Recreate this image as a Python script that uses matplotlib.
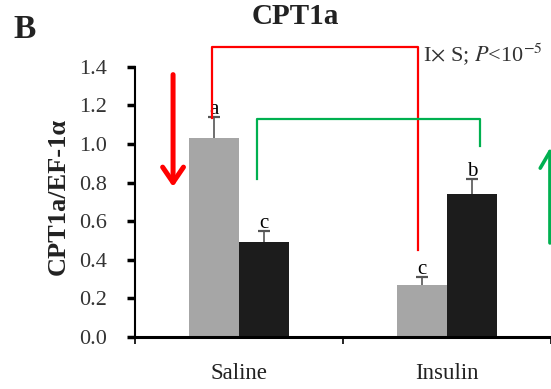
import numpy as np
import matplotlib
matplotlib.use('Agg')
import matplotlib.pyplot as plt

plt.rcParams['font.family'] = ['Liberation Serif', 'DejaVu Serif']
plt.rcParams['mathtext.fontset'] = 'stix'

groups = ['Saline', 'Insulin']
gray_vals = [1.03, 0.27]
gray_err = [0.11, 0.04]
black_vals = [0.49, 0.74]
black_err = [0.06, 0.08]
gray_letters = ['a', 'c']
black_letters = ['c', 'b']

fig = plt.figure(figsize=(5.51, 3.89), dpi=100)
ax = fig.add_axes([0.245, 0.134, 0.755, 0.694])

x = np.arange(len(groups))
w = 0.238
ax.bar(x - w/2, gray_vals, w, color='#a6a6a6', zorder=2)
ax.bar(x + w/2, black_vals, w, color='#1c1c1c', zorder=2)
# upper error bars only (stem + top cap)
for xs, vals, errs in [(x - w/2, gray_vals, gray_err), (x + w/2, black_vals, black_err)]:
    tops = np.array(vals) + np.array(errs)
    ax.vlines(xs, vals, tops, color='#555555', lw=1.2, zorder=3)
    ax.plot(xs, tops, ls='none', marker='_', ms=9, mew=1.6, color='#555555', zorder=3)

for i in range(len(groups)):
    ax.text(x[i] - w/2, gray_vals[i] + gray_err[i] - 0.01, gray_letters[i],
            ha='center', va='bottom', fontsize=15)
    ax.text(x[i] + w/2, black_vals[i] + black_err[i] - 0.01, black_letters[i],
            ha='center', va='bottom', fontsize=15)

# brackets
ax.plot([-0.13, -0.13, 0.86, 0.86], [1.136, 1.504, 1.504, 0.451],
        color='#ff0000', lw=1.6, clip_on=False, zorder=4)
ax.plot([0.087, 0.087, 1.159, 1.159], [0.819, 1.13, 1.13, 0.99],
        color='#00b050', lw=1.6, clip_on=False, zorder=4)
ax.text(0.885, 1.462, r'I$\times$ S; $P$<10$^{-5}$', fontsize=16,
        ha='left', va='center', color='#333333')

# arrows
ax.annotate('', xy=(-0.317, 0.778), xytext=(-0.317, 1.36),
            arrowprops=dict(arrowstyle='->,head_width=0.75,head_length=1.1',
                            color='#ff0000', lw=3.6, shrinkA=0, shrinkB=0))
ax.annotate('', xy=(1.495, 0.98), xytext=(1.495, 0.487),
            arrowprops=dict(arrowstyle='->,head_width=0.7,head_length=1.2',
                            color='#00b050', lw=2.6, shrinkA=0, shrinkB=0),
            annotation_clip=False)

ax.set_xlim(-0.5, 1.5)
ax.set_ylim(0, 1.4)
ax.set_yticks(np.arange(0, 1.41, 0.2))
ax.set_yticklabels(['%.1f' % v for v in np.arange(0, 1.41, 0.2)], fontsize=16,
                   color='#333333')
ax.set_xticks(x)
ax.set_xticklabels(groups, fontsize=16.5, color='#222222')
ax.set_xticks([-0.5, 0.5, 1.5], minor=True)
ax.tick_params(axis='x', which='major', length=0, pad=19)
ax.tick_params(axis='x', which='minor', length=5, width=1.2, direction='out')
ax.tick_params(axis='y', length=6, width=2.5, direction='out', pad=14)
for s in ['top', 'right']:
    ax.spines[s].set_visible(False)
ax.spines['left'].set_linewidth(1.5)
ax.spines['bottom'].set_linewidth(2.2)

fig.text(58/551, 1 - 196/389, 'CPT1a/EF-1α', fontsize=19, fontweight='bold',
         rotation=90, ha='center', va='center', color='#222222')
fig.text(295/551, 1 - 17/389, 'CPT1a', fontsize=21, fontweight='bold',
         ha='center', va='center', color='#222222')
fig.text(25/551, 1 - 29/389, 'B', fontsize=24, fontweight='bold',
         ha='center', va='center', color='#222222')

fig.savefig('out.png', dpi=100)
